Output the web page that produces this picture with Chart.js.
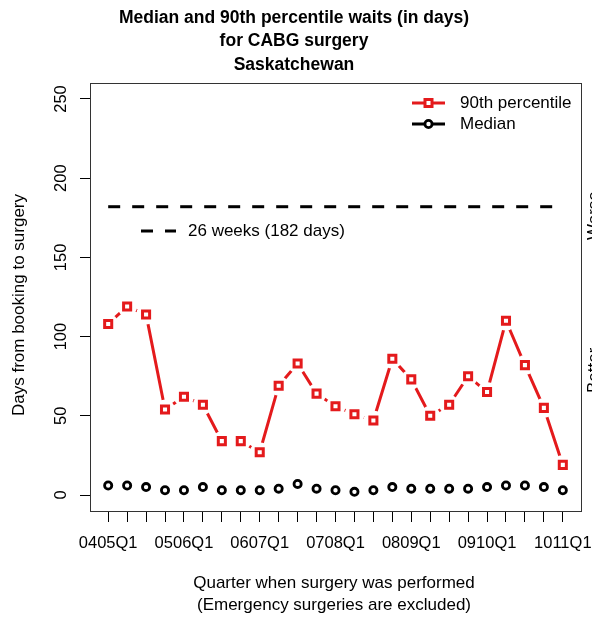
<!DOCTYPE html>
<html>
<head>
<meta charset="utf-8">
<script src="https://cdn.jsdelivr.net/npm/chart.js@4/dist/chart.umd.min.js"></script>
<style>
  html, body { margin: 0; padding: 0; background: #fff; }
</style>
</head>
<body>
<canvas id="chart" width="592" height="618"></canvas>
<script>
const quarters = [
  "0405Q1", "0405Q2", "0405Q3", "0405Q4",
  "0506Q1", "0506Q2", "0506Q3", "0506Q4",
  "0607Q1", "0607Q2", "0607Q3", "0607Q4",
  "0708Q1", "0708Q2", "0708Q3", "0708Q4",
  "0809Q1", "0809Q2", "0809Q3", "0809Q4",
  "0910Q1", "0910Q2", "0910Q3", "0910Q4",
  "1011Q1",
];
const p90Days = [108, 119, 114, 54, 62, 57, 34, 34, 27, 69, 83, 64, 56, 51, 47, 86, 73, 50, 57, 75, 65, 110, 82, 55, 19];
const medianDays = [6, 6, 5, 3, 3, 5, 3, 3, 3, 4, 7, 4, 3, 2, 3, 5, 4, 4, 4, 4, 5, 6, 6, 5, 3];
const benchmarkDays = 182;
const yTickValues = [0, 50, 100, 150, 200, 250];

const RED = "#E41A1C";
const FONT = "'Liberation Sans', Arial, sans-serif";

const toPoints = (arr) => arr.map((v, i) => ({ x: i, y: v }));

// R style text, box and legends drawn on top of the chart
const decorPlugin = {
  id: "decor",
  afterDraw: (chart) => {
    const ctx = chart.ctx;
    const area = chart.chartArea;
    ctx.save();

    ctx.strokeStyle = "#333";
    ctx.lineWidth = 1;
    ctx.strokeRect(area.left + 0.5, area.top + 0.5, area.right - area.left, area.bottom - area.top);

    ctx.fillStyle = "#000";
    ctx.textAlign = "center";
    ctx.textBaseline = "middle";
    ctx.font = "bold 17.5px " + FONT;
    ctx.fillText("Median and 90th percentile waits (in days)", 294, 18);
    ctx.fillText("for CABG surgery", 294, 41);
    ctx.fillText("Saskatchewan", 294, 65);

    ctx.font = "17px " + FONT;
    ctx.fillText("Quarter when surgery was performed", 334, 583);
    ctx.fillText("(Emergency surgeries are excluded)", 334, 605);

    ctx.save();
    ctx.translate(19, 305);
    ctx.rotate(-Math.PI / 2);
    ctx.fillText("Days from booking to surgery", 0, 0);
    ctx.restore();

    // side notes, mostly off the canvas
    ctx.save();
    ctx.textAlign = "left";
    ctx.textBaseline = "top";
    ctx.translate(586, 0);
    ctx.rotate(-Math.PI / 2);
    ctx.fillText("Worse", -240, 0);
    ctx.fillText("Better", -393, 0);
    ctx.restore();

    // series legend
    ctx.textAlign = "left";
    ctx.lineWidth = 3;
    ctx.strokeStyle = RED;
    ctx.beginPath();
    ctx.moveTo(412, 103);
    ctx.lineTo(445, 103);
    ctx.stroke();
    ctx.fillStyle = "#fff";
    ctx.fillRect(425, 99.5, 7, 7);
    ctx.strokeRect(425, 99.5, 7, 7);

    ctx.strokeStyle = "#000";
    ctx.beginPath();
    ctx.moveTo(412, 124);
    ctx.lineTo(445, 124);
    ctx.stroke();
    ctx.beginPath();
    ctx.arc(428.5, 124, 3.6, 0, Math.PI * 2);
    ctx.fill();
    ctx.lineWidth = 2.8;
    ctx.stroke();

    ctx.fillStyle = "#000";
    ctx.fillText("90th percentile", 460, 103);
    ctx.fillText("Median", 460, 124);

    // benchmark legend
    ctx.lineWidth = 3;
    ctx.setLineDash([12, 12]);
    ctx.beginPath();
    ctx.moveTo(141, 231);
    ctx.lineTo(176, 231);
    ctx.stroke();
    ctx.setLineDash([]);
    ctx.fillText("26 weeks (182 days)", 188, 231);

    ctx.restore();
  },
};

const ctx = document.getElementById("chart");
new Chart(ctx, {
  type: "line",
  data: {
    datasets: [
      {
        label: "90th percentile",
        data: toPoints(p90Days),
        showLine: false,
        pointStyle: "rect",
        pointRadius: 5,
        pointBorderWidth: 3,
        pointBorderColor: RED,
        pointBackgroundColor: "#fff",
      },
      {
        label: "Median",
        data: toPoints(medianDays),
        showLine: false,
        pointStyle: "circle",
        pointRadius: 3.6,
        pointBorderWidth: 2.8,
        pointBorderColor: "#000",
        pointBackgroundColor: "#fff",
      },
      {
        // white halo so the line stops short of each marker
        label: "gap",
        data: toPoints(p90Days),
        showLine: false,
        pointStyle: "circle",
        pointRadius: 10,
        pointBorderWidth: 0,
        pointBackgroundColor: "#fff",
      },
      {
        label: "90th percentile line",
        data: toPoints(p90Days),
        borderColor: RED,
        borderWidth: 3,
        pointRadius: 0,
        tension: 0,
      },
      {
        label: "26 weeks (182 days)",
        data: [
          { x: 0, y: benchmarkDays },
          { x: quarters.length - 1, y: benchmarkDays },
        ],
        borderColor: "#000",
        borderWidth: 3,
        borderDash: [12, 12],
        pointRadius: 0,
      },
    ],
  },
  options: {
    responsive: false,
    animation: false,
    devicePixelRatio: 1,
    layout: {
      padding: { top: 83, right: 11, bottom: 0, left: 0 },
    },
    plugins: {
      legend: { display: false },
      tooltip: { enabled: false },
    },
    scales: {
      x: {
        type: "linear",
        min: -0.96,
        max: quarters.length - 1 + 0.96,
        afterBuildTicks: (scale) => {
          scale.ticks = quarters.map((q, i) => ({ value: i }));
        },
        afterFit: (scale) => {
          scale.height = 107;
          scale.paddingLeft = 0;
          scale.paddingRight = 0;
        },
        border: { display: false },
        grid: {
          drawOnChartArea: false,
          drawTicks: true,
          tickLength: 11,
          color: "#000",
        },
        ticks: {
          autoSkip: false,
          minRotation: 0,
          maxRotation: 0,
          padding: 12,
          color: "#000",
          font: { family: FONT, size: 16.5 },
          callback: (value) => (value % 4 === 0 ? quarters[value] : ""),
        },
      },
      y: {
        type: "linear",
        min: -10.1,
        max: 260.1,
        afterBuildTicks: (scale) => {
          scale.ticks = yTickValues.map((v) => ({ value: v }));
        },
        afterFit: (scale) => {
          scale.width = 90;
          scale.paddingTop = 0;
          scale.paddingBottom = 0;
        },
        border: { display: false },
        grid: {
          drawOnChartArea: false,
          drawTicks: true,
          tickLength: 10,
          color: "#000",
        },
        ticks: {
          minRotation: 90,
          maxRotation: 90,
          crossAlign: "center",
          padding: 5,
          color: "#000",
          font: { family: FONT, size: 16.5 },
        },
      },
    },
  },
  plugins: [decorPlugin],
});
</script>
</body>
</html>
